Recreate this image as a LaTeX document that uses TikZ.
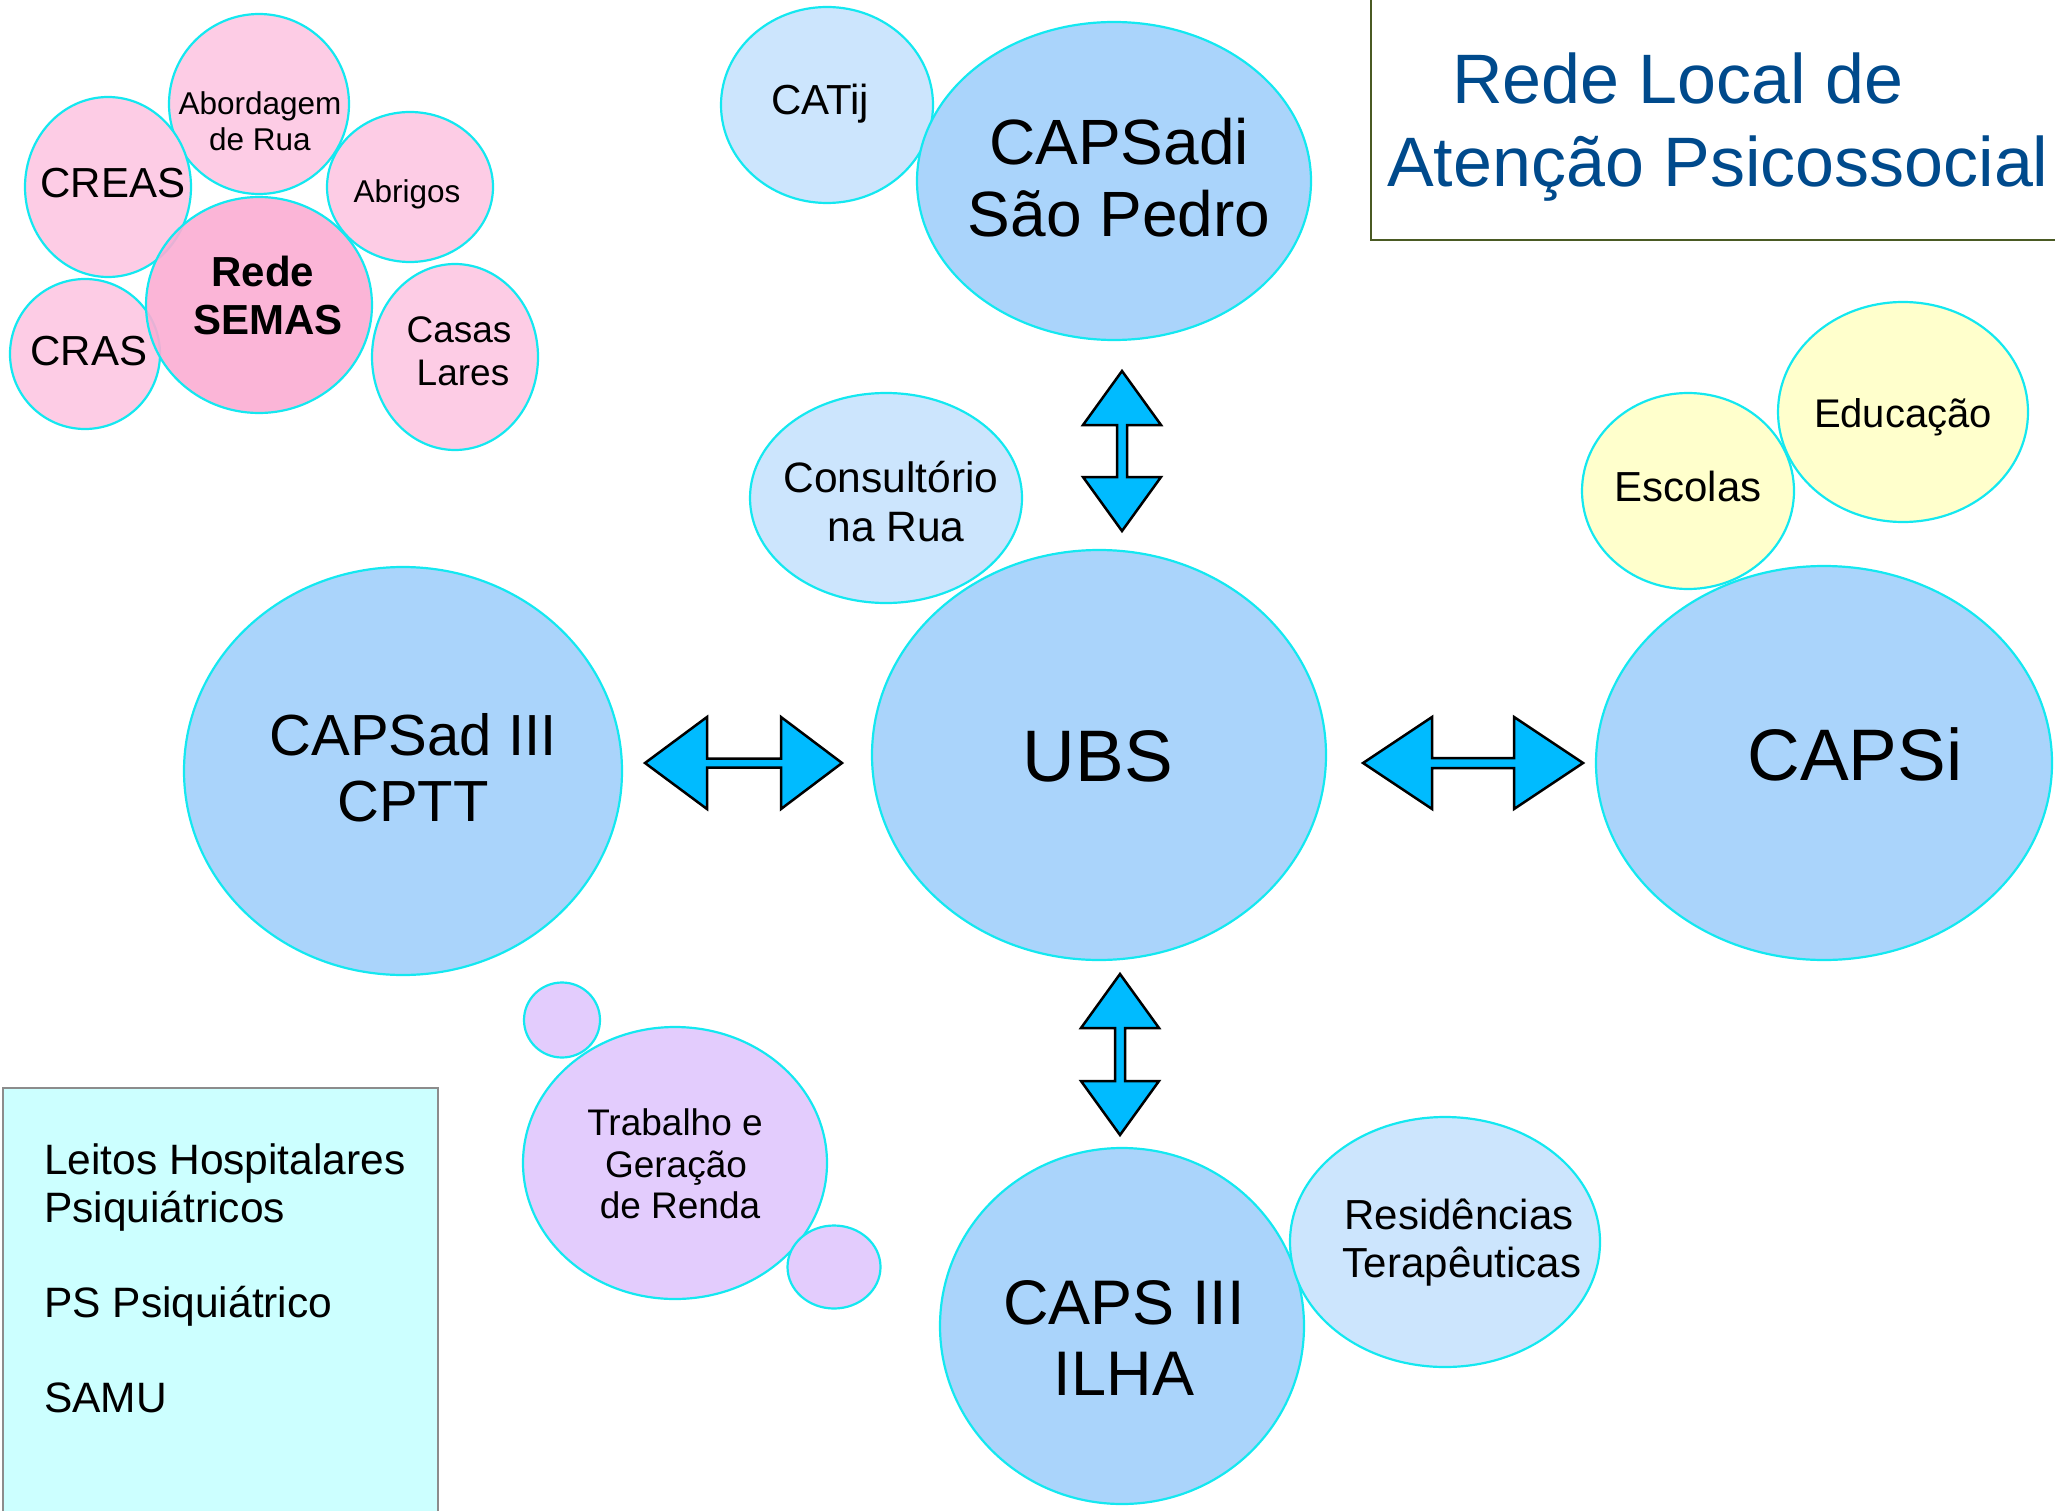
\documentclass[tikz,border=0pt]{standalone}
\usepackage{fontspec}
\setmainfont{Liberation Sans}
\usetikzlibrary{shapes.geometric}
\definecolor{cyanline}{RGB}{20,232,240}
\definecolor{pinkc}{RGB}{253,204,229}
\definecolor{semasc}{RGB}{251,173,211}
\definecolor{bigblue}{RGB}{170,212,251}
\definecolor{lightblue}{RGB}{204,229,253}
\definecolor{yellowc}{RGB}{255,255,204}
\definecolor{purplec}{RGB}{227,204,253}
\definecolor{arrowblue}{RGB}{0,187,255}
\definecolor{boxc}{RGB}{204,255,255}
\definecolor{boxline}{RGB}{140,140,140}
\definecolor{titleblue}{RGB}{0,74,140}
\definecolor{olivec}{RGB}{74,90,35}
\newcommand\myfs[1]{\fontsize{#1}{#1}\selectfont}
\begin{document}
\begin{tikzpicture}[x=1pt,y=-1pt,
  bub/.style={ellipse, draw=cyanline, line width=2.2pt, inner sep=0pt},
  txt/.style={anchor=base, inner sep=0pt, text=black},
  ltxt/.style={anchor=base west, inner sep=0pt, text=black, font=\myfs{42.5}},
  barrow/.style={fill=arrowblue, draw=black, line width=2.5pt, line join=miter}]
\useasboundingbox (0,0) rectangle (2055,1511);

% ---------- pink cluster ----------
\node[bub, fill=pinkc, minimum width=180pt, minimum height=180pt] (abord) at (259,104) {};
\node[bub, fill=pinkc, minimum width=166pt, minimum height=180pt] (creas) at (108,187) {};
\node[bub, fill=pinkc, minimum width=166pt, minimum height=150pt] (abrig) at (410,187) {};
\node[bub, fill=pinkc, minimum width=150pt, minimum height=150pt] (cras) at (85,354) {};
\node[bub, fill=pinkc, minimum width=166pt, minimum height=186pt] (casas) at (455,357) {};
\node[bub, fill=semasc, fill opacity=0.9, minimum width=226pt, minimum height=216pt] (semas) at (259,305) {};

\node[txt, font=\myfs{31.5}] (abord1) at (260,115) {Abordagem};
\node[txt, font=\myfs{31.5}] (abord2) at (260,151) {de Rua};
\node[txt, font=\myfs{42}] (creast) at (113,198) {CREAS};
\node[txt, font=\myfs{31.5}] (abrigt) at (407,203) {Abrigos};
\node[txt, font=\myfs{42}\bfseries] (semas1) at (263,287) {Rede};
\node[txt, font=\myfs{42}\bfseries] (semas2) at (268,335) {SEMAS};
\node[txt, font=\myfs{42}] (crast) at (89,365) {CRAS};
\node[txt, font=\myfs{37}] (casas1) at (459,343) {Casas};
\node[txt, font=\myfs{37}] (casas2) at (463,385) {Lares};

% ---------- top centre ----------
\node[bub, fill=lightblue, minimum width=212pt, minimum height=196pt] (catij) at (827,105) {};
\node[bub, fill=bigblue, minimum width=394pt, minimum height=318pt] (capsadi) at (1114,181) {};
\node[txt, font=\myfs{42}] (catijt) at (820,115) {CATij};
\node[txt, font=\myfs{64}] (capsadi1) at (1119,165) {CAPSadi};
\node[txt, font=\myfs{64}] (capsadi2) at (1119,237) {São Pedro};

% ---------- centre ----------
\node[bub, fill=lightblue, minimum width=272pt, minimum height=210pt] (consult) at (886,498) {};
\node[bub, fill=bigblue, minimum width=454pt, minimum height=410pt] (ubs) at (1099,755) {};
\node[txt, font=\myfs{42.5}] (consult1) at (891,492) {Consultório};
\node[txt, font=\myfs{42.5}] (consult2) at (896,541) {na Rua};
\node[txt, font=\myfs{73}] (ubst) at (1098,781) {UBS};

% ---------- left ----------
\node[bub, fill=bigblue, minimum width=438pt, minimum height=408pt] (capsad) at (403,771) {};
\node[txt, font=\myfs{58}] (capsad1) at (413,755) {CAPSad III};
\node[txt, font=\myfs{58}] (capsad2) at (413,821) {CPTT};

% ---------- right ----------
\node[bub, fill=yellowc, minimum width=250pt, minimum height=220pt] (educ) at (1903,412) {};
\node[bub, fill=yellowc, minimum width=212pt, minimum height=196pt] (escolas) at (1688,491) {};
\node[bub, fill=bigblue, minimum width=456pt, minimum height=394pt] (capsi) at (1824,763) {};
\node[txt, font=\myfs{40}] (educt) at (1903,427) {Educação};
\node[txt, font=\myfs{42}] (escolast) at (1688,501) {Escolas};
\node[txt, font=\myfs{73}] (capsit) at (1855,780) {CAPSi};

% ---------- bottom ----------
\node[bub, fill=bigblue, minimum width=364pt, minimum height=356pt] (capsiii) at (1122,1326) {};
\node[bub, fill=lightblue, minimum width=310pt, minimum height=250pt] (resid) at (1445,1242) {};
\node[txt, font=\myfs{63}] (capsiii1) at (1124,1324) {CAPS III};
\node[txt, font=\myfs{63}] (capsiii2) at (1124,1395) {ILHA};
\node[txt, font=\myfs{42}] (resid1) at (1459,1229) {Residências};
\node[txt, font=\myfs{42}] (resid2) at (1462,1277) {Terapêuticas};

\node[bub, fill=purplec, minimum width=304pt, minimum height=272pt] (trab) at (675,1163) {};
\node[bub, fill=purplec, minimum width=76pt, minimum height=75pt] (tsmall1) at (562,1020) {};
\node[bub, fill=purplec, minimum width=93pt, minimum height=83pt] (tsmall2) at (834,1267) {};
\node[txt, font=\myfs{37}] (trab1) at (675,1135) {Trabalho e};
\node[txt, font=\myfs{37}] (trab2) at (676,1177) {Geração};
\node[txt, font=\myfs{37}] (trab3) at (680,1218) {de Renda};

% ---------- bottom-left box ----------
\draw[fill=boxc, draw=boxline, line width=2pt] (3,1088) rectangle (438,1530);
\node[ltxt] (leitos1) at (44,1174) {Leitos Hospitalares};
\node[ltxt] (leitos2) at (44,1222) {Psiquiátricos};
\node[ltxt] (ps) at (44,1317) {PS Psiquiátrico};
\node[ltxt] (samu) at (44,1412) {SAMU};

% ---------- title ----------
\draw[draw=olivec, line width=2pt] (1371,-10) -- (1371,240) -- (2070,240);
\node[anchor=base west, inner sep=0pt, text=titleblue, font=\myfs{70}] (title1) at (1452,104) {Rede Local de};
\node[anchor=base west, inner sep=0pt, text=titleblue, font=\myfs{70}] (title2) at (1387,187) {Atenção Psicossocial};

% ---------- double block arrows ----------
% CAPSadi <-> UBS
\draw[barrow] (1122,371) -- (1161,425) -- (1127,425) -- (1127,477) -- (1161,477) -- (1122,531)
  -- (1083,477) -- (1117,477) -- (1117,425) -- (1083,425) -- cycle;
% UBS <-> CAPS III
\draw[barrow] (1120,974) -- (1159,1028) -- (1125,1028) -- (1125,1081) -- (1159,1081) -- (1120,1135)
  -- (1081,1081) -- (1115,1081) -- (1115,1028) -- (1081,1028) -- cycle;
% CAPSad <-> UBS
\draw[barrow] (645,763) -- (707,717) -- (707,758.5) -- (781,758.5) -- (781,717) -- (842,763)
  -- (781,809) -- (781,767.5) -- (707,767.5) -- (707,809) -- cycle;
% UBS <-> CAPSi
\draw[barrow] (1363,763) -- (1432,717) -- (1432,758) -- (1514,758) -- (1514,717) -- (1583,763)
  -- (1514,809) -- (1514,768) -- (1432,768) -- (1432,809) -- cycle;
\end{tikzpicture}
\end{document}
